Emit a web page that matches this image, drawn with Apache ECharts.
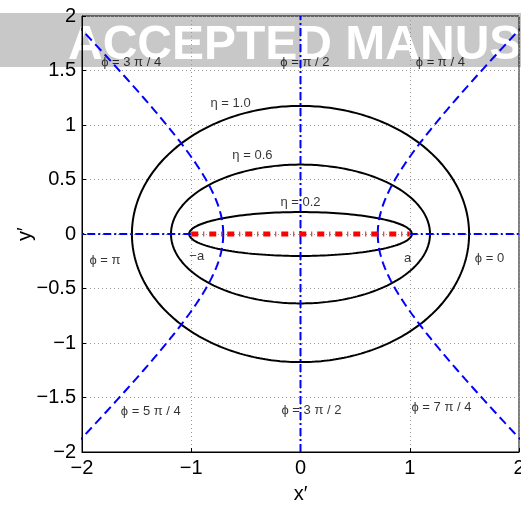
<!DOCTYPE html>
<html>
<head>
<meta charset="utf-8">
<script src="https://cdn.jsdelivr.net/npm/echarts@6/dist/echarts.min.js"></script>
<style>html,body{margin:0;padding:0;background:#fff}#c{width:521px;height:510px}</style>
</head>
<body>
<div id="c"></div>
<script>
// ---- data ----
const focalA = 1;                       // foci at x = ±a
const etaValues = [0.2, 0.6, 1.0];      // ellipses (η = const)
const phiDiagonal = [Math.PI/4, 3*Math.PI/4, 5*Math.PI/4, 7*Math.PI/4]; // hyperbolas (φ = const)
const etaMaxHyper = 2.2;
const xTicks = [-2, -1, 0, 1, 2];
const yTicks = [-2, -1.5, -1, -0.5, 0, 0.5, 1, 1.5, 2];
const labelTexts = ['ϕ = 3 π / 4', 'ϕ = π / 2', 'ϕ = π / 4', 'ϕ = 5 π / 4', 'ϕ = 3 π / 2', 'ϕ = 7 π / 4',
                    'ϕ = π', '−a', 'a', 'ϕ = 0', 'η = 0.2', 'η = 0.6', 'η = 1.0'];
const labelX = [-1.55, 0.04, 1.28, -1.37, 0.10, 1.29, -1.79, -0.95, 0.98, 1.73, 0.00, -0.44, -0.64];
const labelY = [1.57, 1.57, 1.57, -1.63, -1.62, -1.59, -0.24, -0.21, -0.22, -0.22, 0.29, 0.72, 1.20];

// ---- curves from elliptic coordinates ----
function ellipse(eta) {
  const pts = [];
  for (let i = 0; i <= 360; i++) {
    const t = i * Math.PI / 180;
    pts.push([focalA * Math.cosh(eta) * Math.cos(t), focalA * Math.sinh(eta) * Math.sin(t)]);
  }
  return pts;
}
function hyperbola(phi) {
  const pts = [];
  for (let i = 0; i <= 220; i++) {
    const e = etaMaxHyper * i / 220;
    pts.push([focalA * Math.cosh(e) * Math.cos(phi), focalA * Math.sinh(e) * Math.sin(phi)]);
  }
  return pts;
}

const fmt = v => String(v).replace('-', '−');
const series = [];
etaValues.forEach(eta => series.push({
  type: 'line', data: ellipse(eta), showSymbol: false, symbol: 'none', z: 3,
  lineStyle: { color: '#000', width: 2 }
}));
phiDiagonal.forEach(phi => series.push({
  type: 'line', data: hyperbola(phi), showSymbol: false, symbol: 'none', z: 3,
  lineStyle: { color: '#0000ff', width: 2, type: [9, 5], cap: 'butt' }
}));
// φ = π/2, 3π/2 (x = 0) and φ = 0, π (y = 0 outside the foci)
const dashDot = { color: '#0000ff', width: 2, type: [8, 3, 2, 3], cap: 'butt' };
series.push({ type: 'line', data: [[0, -2], [0, 2]], symbol: 'none', z: 3, lineStyle: dashDot });
series.push({ type: 'line', data: [[focalA, 0], [2, 0]], symbol: 'none', z: 3, lineStyle: dashDot });
series.push({ type: 'line', data: [[-focalA, 0], [-2, 0]], symbol: 'none', z: 3, lineStyle: dashDot });
// η = 0 : the segment between the foci
series.push({ type: 'line', data: [[-focalA, 0], [focalA, 0]], symbol: 'none', z: 4,
  lineStyle: { color: '#ff0000', width: 5, type: [7, 5, 1, 5], cap: 'butt' } });
// text labels
series.push({
  type: 'scatter', symbolSize: 0, z: 5,
  data: labelTexts.map((t, i) => ({ name: t, value: [labelX[i], labelY[i]] })),
  label: { show: true, position: 'inside', formatter: '{b}', color: '#000',
           fontSize: 13, fontFamily: '"Liberation Sans", "DejaVu Sans"' }
});

const axisCommon = {
  axisLine: { show: true, onZero: false, lineStyle: { color: '#000', width: 1 } },
  axisTick: { show: true, inside: true, length: 4, lineStyle: { color: '#000' } },
  splitLine: { show: true, lineStyle: { color: '#999', type: [1, 3], width: 1 } },
  nameMoveOverlap: false,
  nameTextStyle: { fontSize: 20, color: '#000', fontFamily: 'Liberation Sans' }
};

const chart = echarts.init(document.getElementById('c'), null, { renderer: 'canvas' });
chart.setOption({
  animation: false,
  backgroundColor: '#fff',
  graphic: [
    { type: 'rect', z: -100, shape: { x: 0, y: 13, width: 521, height: 54 }, style: { fill: '#c8c8c9' } },
    { type: 'text', z: -99, x: 68, y: 46,
      style: { text: 'ACCEPTED MANUS', fill: '#fff', font: 'bold 48px "Liberation Sans"', verticalAlign: 'middle', align: 'left' } }
  ],
  grid: { left: 82, right: 2, top: 16, bottom: 58, show: true, borderColor: '#000', borderWidth: 1,
          backgroundColor: 'transparent', containLabel: false, outerBoundsMode: 'none' },
  xAxis: Object.assign({}, axisCommon, {
    type: 'value', min: xTicks[0], max: xTicks[xTicks.length - 1], interval: 1,
    name: 'x′', nameLocation: 'middle', nameGap: 32,
    axisLabel: { formatter: fmt, fontSize: 20, color: '#000', margin: 6, fontFamily: 'Liberation Sans' }
  }),
  yAxis: Object.assign({}, axisCommon, {
    type: 'value', min: yTicks[0], max: yTicks[yTicks.length - 1], interval: 0.5,
    name: 'y′', nameLocation: 'middle', nameGap: 47,
    axisLabel: { formatter: fmt, fontSize: 20, color: '#000', margin: 6, fontFamily: 'Liberation Sans' }
  }),
  series: series
});
</script>
</body>
</html>
